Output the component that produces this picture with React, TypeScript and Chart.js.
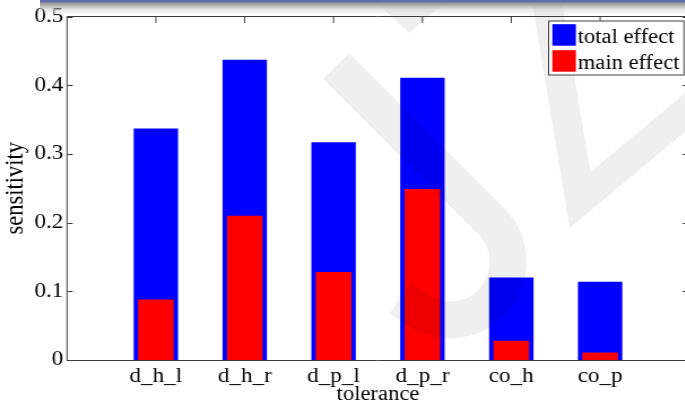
import { useEffect, useRef } from 'react';
import { Chart, registerables } from 'chart.js';

Chart.register(...registerables);

// ---- data ----
const categories = ['d_h_l', 'd_h_r', 'd_p_l', 'd_p_r', 'co_h', 'co_p'];
const totalEffect = [0.337, 0.437, 0.317, 0.411, 0.12, 0.114];
const mainEffect = [0.088, 0.21, 0.128, 0.249, 0.028, 0.011];
const yTicks = [0, 0.1, 0.2, 0.3, 0.4, 0.5];
const seriesNames = ['total effect', 'main effect'];
const seriesColors = ['#0000ff', '#ff0000'];
const xTitle = 'tolerance';
const yTitle = 'sensitivity';

// ---- layout / style ----
const SX = 1.13; // horizontal stretch of the picture
const CW = 620;
const CH = 403;
const FONT = '"Liberation Serif", "Times New Roman", serif';
const AXIS = '#3c3c3c';
const TICK_FONT = `20.5px ${FONT}`;

const labels = ['', ...categories, ''];
const pad = (arr: number[]) => [null, ...arr, null];
const fmtY = (v: number) => (v === 0 ? '0' : v.toFixed(1));

const framePlugin = {
  id: 'matlabFrame',
  beforeDatasetsDraw(chart: any) {
    const { ctx, chartArea: a, scales } = chart;
    const x = scales.x;
    const y = scales.y;
    ctx.save();
    ctx.strokeStyle = AXIS;
    ctx.lineWidth = 1;
    ctx.beginPath();
    y.ticks.forEach((t: any) => {
      const py = Math.round(y.getPixelForValue(t.value)) + 0.5;
      ctx.moveTo(a.left, py);
      ctx.lineTo(a.left + 5, py);
      ctx.moveTo(a.right, py);
      ctx.lineTo(a.right - 5.5, py);
    });
    categories.forEach((_, i) => {
      const px = x.getPixelForValue(i + 1);
      ctx.moveTo(px, a.top);
      ctx.lineTo(px, a.top + 6.5);
      ctx.moveTo(px, a.bottom);
      ctx.lineTo(px, a.bottom - 6.5);
    });
    ctx.stroke();
    ctx.restore();
  },
  afterDatasetsDraw(chart: any) {
    const { ctx, chartArea: a, scales } = chart;
    const x = scales.x;
    const y = scales.y;
    // watermark (page coordinates)
    ctx.save();
    ctx.scale(1 / SX, 1);
    ctx.strokeStyle = 'rgba(0,0,0,0.063)';
    ctx.fillStyle = 'rgba(0,0,0,0.063)';
    ctx.lineCap = 'butt';
    ctx.lineJoin = 'miter';
    ctx.lineWidth = 37;
    ctx.beginPath();
    ctx.moveTo(336, 66);
    ctx.lineTo(491, 221);
    ctx.arc(450, 262, 58, -Math.PI / 4, (Math.PI * 125) / 180);
    ctx.lineTo(400, 298);
    ctx.stroke();
    ctx.lineWidth = 30;
    ctx.beginPath();
    ctx.moveTo(545, -10);
    ctx.lineTo(580, 200);
    ctx.lineTo(700, 100);
    ctx.stroke();
    ctx.beginPath();
    ctx.moveTo(374, 0);
    ctx.lineTo(448, 0);
    ctx.lineTo(409, 33);
    ctx.closePath();
    ctx.fill();
    ctx.restore();

    // frame
    ctx.save();
    ctx.strokeStyle = AXIS;
    ctx.lineWidth = 1;
    ctx.beginPath();
    ctx.moveTo(a.left, a.top);
    ctx.lineTo(a.right, a.top);
    ctx.lineTo(a.right, a.bottom + 0.5);
    ctx.lineTo(a.left, a.bottom + 0.5);
    ctx.lineTo(a.left, a.top);
    ctx.stroke();

    // tick labels
    ctx.fillStyle = '#000';
    ctx.font = TICK_FONT;
    ctx.textAlign = 'right';
    ctx.textBaseline = 'middle';
    y.ticks.forEach((t: any) => {
      ctx.fillText(fmtY(t.value), a.left - 3.3, y.getPixelForValue(t.value));
    });
    ctx.textAlign = 'center';
    ctx.textBaseline = 'alphabetic';
    categories.forEach((c, i) => {
      ctx.fillText(c, x.getPixelForValue(i + 1), a.bottom + 22.3);
    });

    // legend
    const bx = 485.2;
    const by = 20.7;
    const bw = 120.4;
    const bh = 54.6;
    ctx.fillStyle = '#ffffff';
    ctx.fillRect(bx, by, bw, bh);
    ctx.strokeRect(bx + 0.3, by + 0.3, bw - 0.6, bh - 0.6);
    ctx.font = `20px ${FONT}`;
    ctx.textBaseline = 'alphabetic';
    ctx.textAlign = 'left';
    chart.data.datasets.forEach((ds: any, i: number) => {
      const top = by + 3.5 + i * 26;
      ctx.fillStyle = ds.backgroundColor;
      ctx.fillRect(bx + 3.6, top, 20.8, 21.5);
      ctx.fillStyle = '#000';
      ctx.fillText(ds.label, bx + 26, top + 18.3);
    });
    ctx.restore();
  },
};

export default function App() {
  const ref = useRef<HTMLCanvasElement | null>(null);

  useEffect(() => {
    document.body.style.margin = '0';
    document.body.style.overflow = 'hidden';
    const canvas = ref.current;
    if (!canvas) return;
    const chart = new Chart(canvas, {
      type: 'bar',
      data: {
        labels,
        datasets: [
          {
            label: seriesNames[0],
            data: pad(totalEffect),
            backgroundColor: seriesColors[0],
            barPercentage: 0.5,
            categoryPercentage: 1,
            grouped: false,
            order: 1,
          } as any,
          {
            label: seriesNames[1],
            data: pad(mainEffect),
            backgroundColor: seriesColors[1],
            barPercentage: 0.4,
            categoryPercentage: 1,
            grouped: false,
            order: 0,
          } as any,
        ],
      },
      options: {
        responsive: false,
        animation: false,
        devicePixelRatio: 1,
        layout: { padding: { left: 0, top: 16.5, right: CW - 609.7, bottom: 0 } },
        plugins: {
          legend: { display: false },
          tooltip: { enabled: false },
          title: { display: false },
        },
        scales: {
          x: {
            type: 'category',
            offset: false,
            grid: { display: false },
            border: { display: false },
            ticks: { display: false, autoSkip: false, maxRotation: 0, minRotation: 0 },
            title: {
              display: true,
              text: xTitle,
              color: '#000',
              font: { family: FONT, size: 20, lineHeight: 0.8 },
              padding: { top: 0, bottom: 0 },
            },
            afterFit: (s: any) => {
              s.height = 43;
            },
          },
          y: {
            min: 0,
            max: 0.5,
            grid: { display: false },
            border: { display: false },
            afterBuildTicks: (s: any) => {
              s.ticks = yTicks.map((v) => ({ value: v }));
            },
            ticks: { display: false },
            title: {
              display: true,
              text: yTitle,
              color: '#000',
              font: { family: FONT, size: 22.5, lineHeight: 1.2 },
              padding: { top: 1, bottom: 0 },
            },
            afterFit: (s: any) => {
              s.width = 59.3;
            },
          },
        },
      } as any,
      plugins: [framePlugin],
    });
    return () => chart.destroy();
  }, []);

  return (
    <div style={{ position: 'relative', width: 685, height: 403, overflow: 'hidden', background: '#fff' }}>
      <canvas
        ref={ref}
        width={CW}
        height={CH}
        style={{ position: 'absolute', left: 0, top: 0, transform: `scaleX(${SX})`, transformOrigin: '0 0' }}
      />
      <div
        style={{
          position: 'absolute',
          left: 40,
          top: 0,
          right: 0,
          height: 15,
          pointerEvents: 'none',
          background:
            'linear-gradient(to bottom, #6172aa 0px, #6172aa 2px, #959595 3px, rgba(200,200,200,0.5) 9px, rgba(255,255,255,0) 15px)',
        }}
      />
    </div>
  );
}
